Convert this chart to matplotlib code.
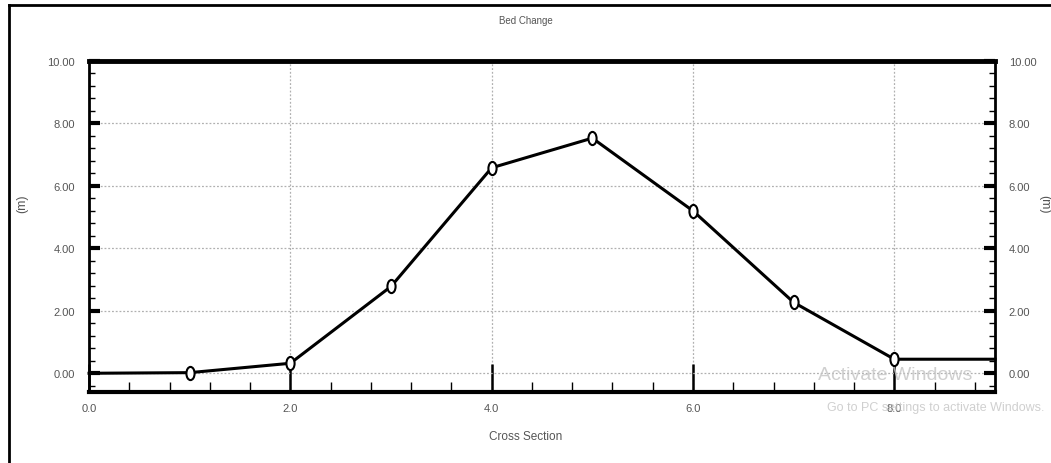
import matplotlib
matplotlib.use("Agg")
import matplotlib.pyplot as plt
from matplotlib.ticker import MultipleLocator, FormatStrFormatter
from matplotlib.lines import Line2D
from matplotlib.path import Path

plt.rcParams['font.family'] = ['Liberation Sans Narrow', 'Liberation Sans', 'DejaVu Sans']

# data
cross_section = [0, 1, 2, 3, 4, 5, 6, 7, 8, 9]
bed_change = [0.0, 0.02, 0.32, 2.78, 6.58, 7.53, 5.2, 2.27, 0.45, 0.45]
marked = [1, 2, 3, 4, 5, 6, 7, 8]

title = "Bed Change"
x_label = "Cross Section"
y_label = "(m)"

# tall open ellipse marker, like the squashed circles in the screenshot
circ = Path.unit_circle()
ellipse = Path(circ.vertices * [0.62, 1.0], circ.codes)

fig = plt.figure(figsize=(10.51, 4.64), dpi=100)
ax = fig.add_axes([0.0847, 0.1530, 0.8620, 0.7134])

ax.plot(cross_section, bed_change, color='black', lw=2.2, zorder=3,
        marker=ellipse, markevery=marked, ms=9.5, mfc='white', mec='black', mew=1.5,
        clip_on=False)

ax.set_xlim(0, 9)
ax.set_ylim(-0.6, 10)

ax.xaxis.set_major_locator(MultipleLocator(2))
ax.xaxis.set_minor_locator(MultipleLocator(0.4))
ax.yaxis.set_major_locator(MultipleLocator(2))
ax.yaxis.set_minor_locator(MultipleLocator(0.4))
ax.xaxis.set_major_formatter(FormatStrFormatter('%.1f'))
ax.yaxis.set_major_formatter(FormatStrFormatter('%.2f'))

ax.grid(True, which='major', color='#b0b0b0', ls=(0, (1.5, 1.5)), lw=0.9)

ax.tick_params(axis='x', which='major', direction='in', length=20, width=1.8,
               labelsize=8, labelcolor='#555555', pad=8, top=False)
ax.tick_params(axis='x', which='minor', direction='in', length=7, width=1.0, top=False)
ax.tick_params(axis='y', which='major', direction='in', length=8, width=3,
               labelsize=8, labelcolor='#555555', pad=10, left=True, right=True,
               labelright=True)
ax.tick_params(axis='y', which='minor', direction='in', length=4, width=1.0,
               left=True, right=True)

ax.spines['top'].set_linewidth(3.5)
ax.spines['bottom'].set_linewidth(3)
ax.spines['left'].set_linewidth(2)
ax.spines['right'].set_linewidth(2)

fig.text(0.5, 0.955, title, ha='center', va='center', fontsize=7, color='#555555')
fig.text(0.5, 0.058, x_label, ha='center', va='center', fontsize=8.5, color='#555555')
fig.text(0.021, 0.56, y_label, ha='center', va='center', rotation=90,
         fontsize=9, color='#555555')
fig.text(0.994, 0.56, y_label, ha='center', va='center', rotation=270,
         fontsize=9, color='#555555')

# screenshot watermark
fig.text(0.852, 0.19, "Activate Windows", ha='center', va='center',
         fontsize=14, color='#c4c4c4', alpha=0.8, zorder=10)
fig.text(0.890, 0.12, "Go to PC settings to activate Windows.", ha='center', va='center',
         fontsize=9, color='#c4c4c4', alpha=0.8, zorder=10)

# outer frame (left and top edges of the screenshot)
fig.add_artist(Line2D([0.0085, 0.0085], [0.0, 0.987], transform=fig.transFigure,
                      color='black', lw=2))
fig.add_artist(Line2D([0.0085, 1.0], [0.987, 0.987], transform=fig.transFigure,
                      color='black', lw=2))

fig.savefig("out.png", dpi=100)
